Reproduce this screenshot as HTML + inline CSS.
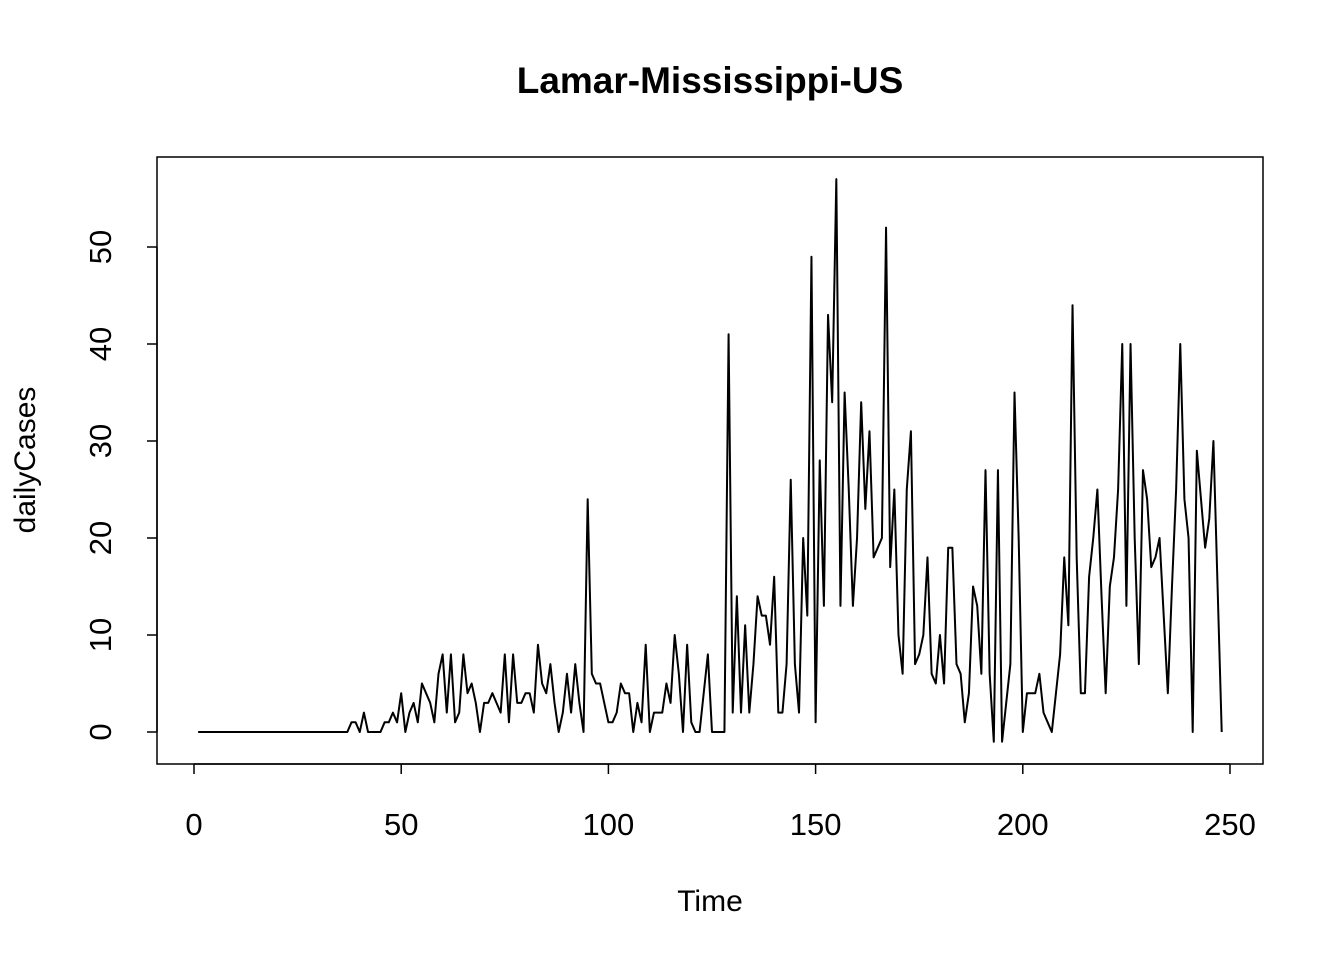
<!DOCTYPE html>
<html><head><meta charset="utf-8"><style>
body{margin:0;background:#fff}
svg{font-family:"Liberation Sans",Arial,sans-serif}
</style></head><body>
<svg id="chart" width="1344" height="960">
<rect width="1344" height="960" fill="#fff"/>
<text x="710" y="93" text-anchor="middle" font-size="37" font-weight="bold">Lamar-Mississippi-US</text>
<rect x="157" y="157" width="1106" height="607" fill="none" stroke="#000" stroke-width="1.5"/>
<text x="710" y="911" text-anchor="middle" font-size="30">Time</text>
<text transform="translate(35,460) rotate(-90)" text-anchor="middle" font-size="30">dailyCases</text>
<g id="xaxis"></g>
<g id="yaxis"></g>
<path id="series" fill="none" stroke="#000" stroke-width="2" stroke-linejoin="round"/>
</svg>
<script>
const xTicks=[0,50,100,150,200,250];
const yTicks=[0,10,20,30,40,50];
const zeros=new Array(37).fill(0);
const cases=zeros.concat([1,1,0,2,0,0,0,0,1,1,2,1,4,0,2,3,1,5,4,3,1,6,8,2,8,1,2,8,4,5,3,0,3,3,4,3,2,8,1,8,3,3,4,4,2,9,5,4,7,3,0,2,6,2,7,3,0,24,6,5,5,3,1,1,2,5,4,4,0,3,1,9,0,2,2,2,5,3,10,6,0,9,1,0,0,4,8,0,0,0,0,41,2,14,2,11,2,7,14,12,12,9,16,2,2,7,26,7,2,20,12,49,1,28,13,43,34,57,13,35,25,13,20,34,23,31,18,19,20,52,17,25,10,6,25,31,7,8,10,18,6,5,10,5,19,19,7,6,1,4,15,13,6,27,6,-1,27,-1,3,7,35,20,0,4,4,4,6,2,1,0,4,8,18,11,44,18,4,4,16,20,25,14,4,15,18,25,40,13,40,20,7,27,24,17,18,20,12,4,15,25,40,24,20,0,29,24,19,22,30,15,0]);
const X=t=>194+(t-0)*(1230-194)/250;
const Y=v=>732-v*(732-247)/50;
const NS="http://www.w3.org/2000/svg";
const xa=document.getElementById('xaxis'),ya=document.getElementById('yaxis');
function mk(tag,attrs,parent){const e=document.createElementNS(NS,tag);for(const k in attrs)e.setAttribute(k,attrs[k]);parent.appendChild(e);return e;}
mk('line',{x1:X(xTicks[0]),x2:X(xTicks[xTicks.length-1]),y1:764,y2:764,stroke:'#000','stroke-width':1.5},xa);
xTicks.forEach(t=>{
 const l=mk('line',{x1:X(t),x2:X(t),y1:764,y2:774,stroke:'#000','stroke-width':1.5},xa);
 
 
 const tx=mk('text',{x:X(t),y:835,'text-anchor':'middle','font-size':31},xa);tx.textContent=t;
 
 
});
mk('line',{x1:157,x2:157,y1:Y(yTicks[0]),y2:Y(yTicks[yTicks.length-1]),stroke:'#000','stroke-width':1.5},ya);
yTicks.forEach(v=>{
 const l=mk('line',{x1:147,x2:157,y1:Y(v),y2:Y(v),stroke:'#000','stroke-width':1.5},ya);
 
 
 const tx=mk('text',{transform:`translate(111,${Y(v)}) rotate(-90)`,'text-anchor':'middle','font-size':31},ya);tx.textContent=v;
 
 
});
document.getElementById('series').setAttribute('d',cases.map((v,i)=>(i?'L':'M')+X(i+1).toFixed(2)+','+Y(v).toFixed(2)).join(''));
</script>
</body></html>
